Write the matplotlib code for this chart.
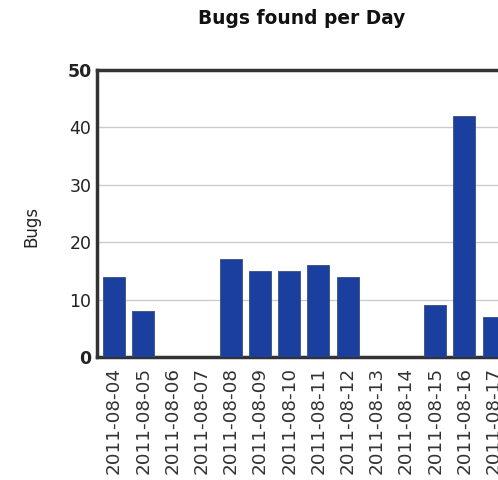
import matplotlib
matplotlib.use("Agg")
import matplotlib.pyplot as plt

# data
days = ["2011-08-04", "2011-08-05", "2011-08-06", "2011-08-07", "2011-08-08",
        "2011-08-09", "2011-08-10", "2011-08-11", "2011-08-12", "2011-08-13",
        "2011-08-14", "2011-08-15", "2011-08-16", "2011-08-17"]
bugs = [14, 8, 0, 0, 17, 15, 15, 16, 14, 0, 0, 9, 42, 7]
yticks = [0, 10, 20, 30, 40, 50]

W, H = 498, 480
fig = plt.figure(figsize=(W / 100, H / 100), dpi=100)

# the original chart is clipped on the right, so the axes run past the figure edge
left_px, right_px, top_px, bottom_px = 97, 540, 70, 357
ax = fig.add_axes([left_px / W, (H - bottom_px) / H,
                   (right_px - left_px) / W, (bottom_px - top_px) / H])

step = 29.2
first_center = 114
x = list(range(len(days)))
ax.bar(x, bugs, width=0.76, color="#1b3f9f", edgecolor="#3a4f7a", linewidth=0.6, zorder=3)

ax.set_xlim((left_px - first_center) / step, (right_px - first_center) / step)
ax.set_ylim(0, 50)
ax.set_yticks(yticks)
ax.set_yticklabels([str(v) for v in yticks], fontsize=12.5, color="#222222")
for lbl in ax.get_yticklabels():
    if lbl.get_text() in ("0", "50"):
        lbl.set_fontweight("bold")
ax.set_xticks(x)
ax.set_xticklabels(days, rotation=90, fontsize=13.2, color="#333333")
ax.tick_params(axis="x", length=0, pad=7)
ax.tick_params(axis="y", length=0, pad=4)

ax.yaxis.grid(True, color="#cccccc", linewidth=1, zorder=0)
for side in ("left", "top", "bottom"):
    ax.spines[side].set_linewidth(2.5)
    ax.spines[side].set_color("#333333")
ax.spines["right"].set_visible(False)

ax.set_ylabel("Bugs", fontsize=12, color="#222222")
ax.yaxis.set_label_coords((40 - left_px) / (right_px - left_px), (bottom_px - 226) / (bottom_px - top_px))
fig.text(302 / W, 1 - 18 / H, "Bugs found per Day", ha="center", va="center",
         fontsize=13.4, fontweight="bold", color="#111111")

fig.savefig("out.png", dpi=100)
